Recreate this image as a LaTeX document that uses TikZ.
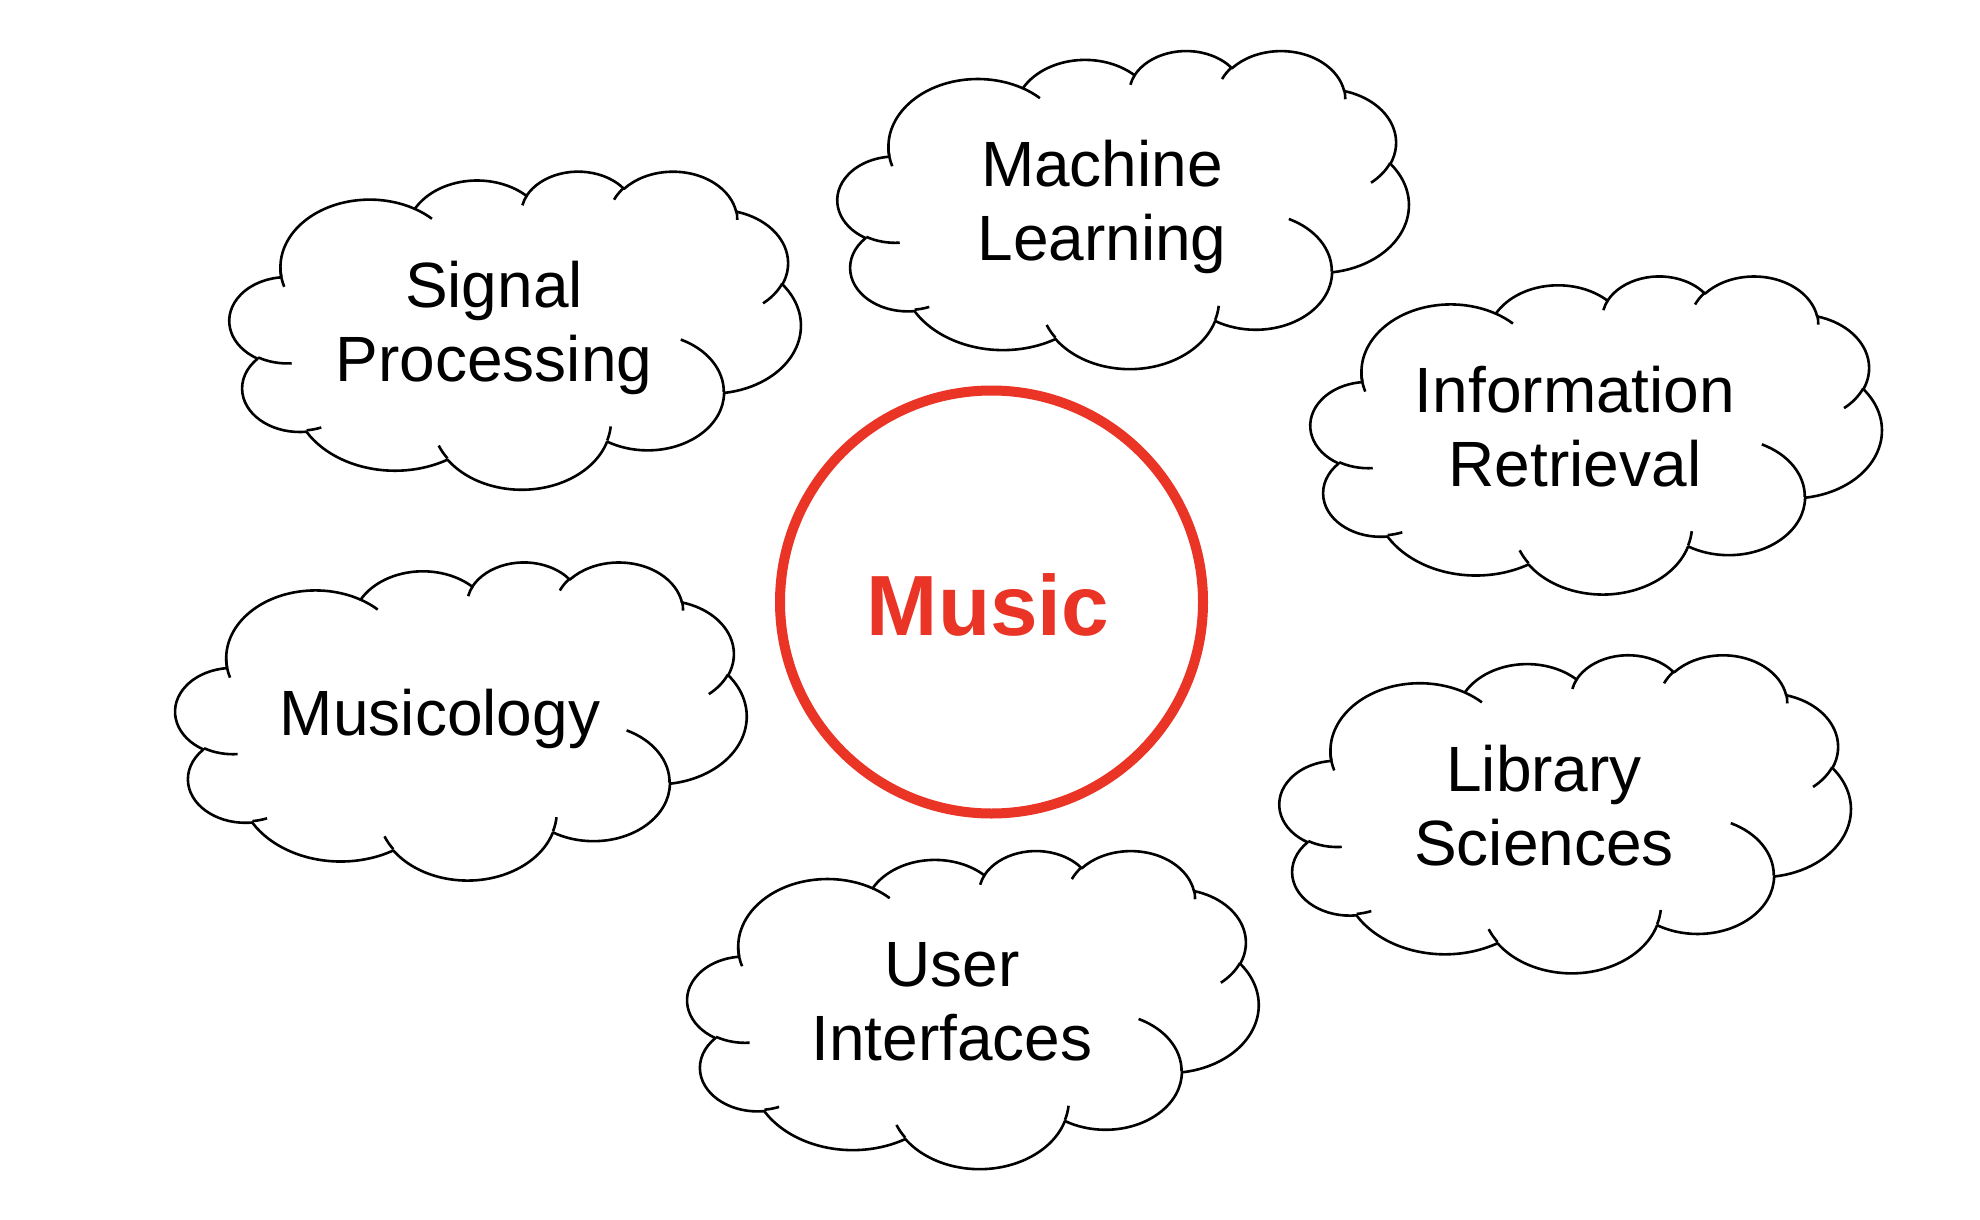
\documentclass[tikz,border=0pt]{standalone}
\usepackage{fontspec}
\setmainfont{Liberation Sans}
\definecolor{mred}{RGB}{233,52,38}

% one arc of a DrawingML-style path: x radius, y radius, start angle, sweep (visual angles)
\newcommand\cldarc[4]{%
  \pgfmathsetmacro\cldA{atan2((#1)*sin(#3),(#2)*cos(#3))}%
  \pgfmathsetmacro\cldB{atan2((#1)*sin((#3)+(#4)),(#2)*cos((#3)+(#4)))}%
  \pgfmathsetmacro\cldE{\cldA+mod(\cldB-\cldA+720,360)}%
  \pgfpatharc{\cldA}{\cldE}{#1pt and #2pt}%
}
\newcommand\cldmove[2]{\pgfpathmoveto{\pgfpoint{#1pt}{#2pt}}}

% cloud in a box of 571 x 318 whose top left corner is #1,#2
\newcommand\cloudat[2]{%
\begin{scope}[shift={(#1,#2)}, xscale=571/43.2, yscale=-318/43.2, cloudline]
  \cldmove{3.900}{14.370}%
  \cldarc{6.753}{9.190}{-190.48748}{123.78053}%
  \cldarc{5.333}{7.267}{-144.10238}{89.94523}%
  \cldarc{4.365}{5.945}{-145.80792}{99.72302}%
  \cldarc{4.857}{6.595}{-130.98607}{117.24173}%
  \cldarc{5.333}{7.273}{-78.70888}{109.02692}%
  \cldarc{6.775}{9.220}{-46.26725}{130.269}%
  \cldarc{5.785}{7.867}{0.62502}{114.03333}%
  \cldarc{6.752}{9.215}{22.4516}{115.17255}%
  \cldarc{7.720}{10.543}{66.24263}{75.71102}%
  \cldarc{4.360}{5.918}{-274.94208}{146.73557}%
  \cldarc{4.345}{5.945}{-246.8285}{152.51885}%
  \pgfpathclose
  \pgfusepath{stroke}%
  \cldmove{4.693}{26.177}\cldarc{4.345}{5.945}{86.742}{26.4295}%
  \cldmove{6.928}{34.899}\cldarc{4.360}{5.918}{73.61047}{11.44747}%
  \cldmove{16.478}{39.090}\cldarc{6.752}{9.215}{137.62415}{14.0811}%
  \cldmove{28.827}{34.751}\cldarc{6.752}{9.215}{6.45327}{15.99835}%
  \cldmove{34.129}{22.954}\cldarc{5.785}{7.867}{-70.29235}{70.91737}%
  \cldmove{41.798}{15.354}\cldarc{5.333}{7.273}{30.31803}{27.7515}%
  \cldmove{38.324}{5.426}\cldarc{4.857}{6.595}{-13.74433}{14.8589}%
  \cldmove{29.078}{3.952}\cldarc{4.857}{6.595}{-149.18145}{18.19537}%
  \cldmove{22.141}{4.720}\cldarc{4.365}{5.945}{-163.49427}{17.68635}%
  \cldmove{14.000}{5.192}\cldarc{6.753}{9.190}{-66.70695}{12.31935}%
  \cldmove{4.127}{15.789}\cldarc{6.753}{9.190}{157.164}{20.69845}%
  \pgfusepath{stroke}%
\end{scope}}

\begin{document}
\begin{tikzpicture}[x=1pt, y=-1pt,
  cloudline/.style={line width=2.6pt, draw=black, line join=round},
  lbl/.style={font=\fontsize{64}{74}\selectfont, anchor=base, inner sep=0pt, text=black},
  hub/.style={circle, draw=mred, line width=10pt, minimum size=423pt, inner sep=0pt},
  hubtext/.style={text=mred, font=\fontsize{85.5}{90}\selectfont\bfseries, anchor=base, inner sep=0pt}]
\fill[white] (0,0) rectangle (1980,1220);
\useasboundingbox (0,0) rectangle (1980,1220);

% centre
\node[hub] (music) at (991.5,602) {};
\node[hubtext] (musictext) at (988,635) {Music};

% clouds
\cloudat{229.7}{170.6}
\cloudat{837.7}{50}
\cloudat{1310.7}{275.4}
\cloudat{175.5}{561.4}
\cloudat{1279.7}{654.2}
\cloudat{687.5}{850}

% labels
\node[lbl] (sp1) at (494,307) {Signal};
\node[lbl] (sp2) at (494,381) {Processing};
\node[lbl] (ml1) at (1102,186.5) {Machine};
\node[lbl] (ml2) at (1102,260.5) {Learning};
\node[lbl] (ir1) at (1575,412) {Information};
\node[lbl] (ir2) at (1575,486) {Retrieval};
\node[lbl] (mu1) at (440,735) {Musicology};
\node[lbl] (ls1) at (1544,791) {Library};
\node[lbl] (ls2) at (1544,865) {Sciences};
\node[lbl] (ui1) at (952,986.5) {User};
\node[lbl] (ui2) at (952,1060.5) {Interfaces};
\end{tikzpicture}
\end{document}
